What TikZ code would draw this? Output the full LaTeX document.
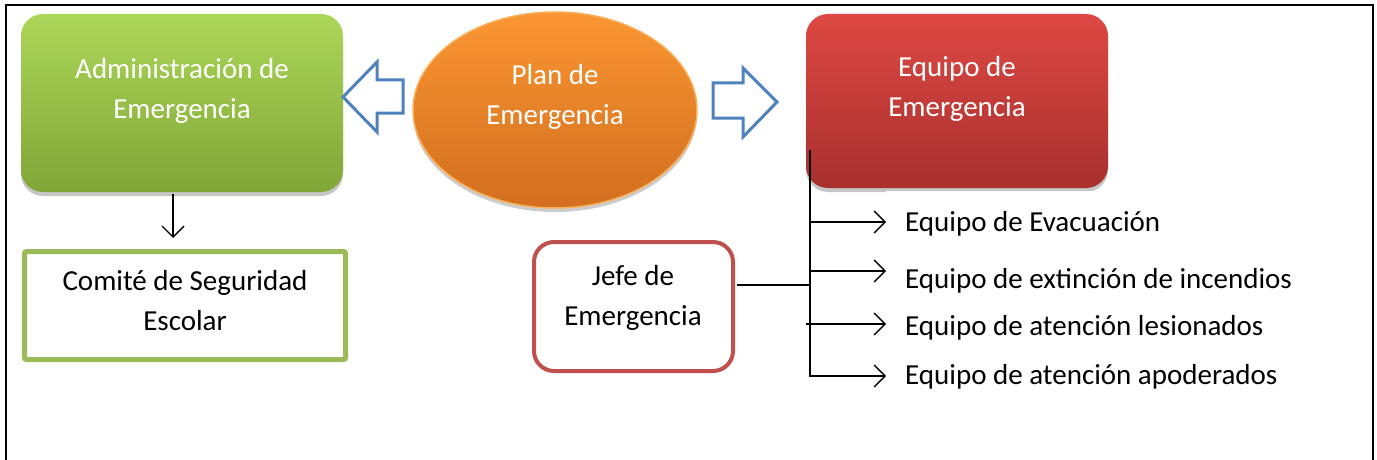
\documentclass[tikz,border=0pt]{standalone}
\usepackage{fontspec}
\setmainfont{Carlito}
\usetikzlibrary{shadows,arrows.meta,shapes.geometric}
\definecolor{admtop}{RGB}{172,214,88}
\definecolor{admbot}{RGB}{128,166,56}
\definecolor{plantop}{RGB}{250,150,50}
\definecolor{planbot}{RGB}{210,110,30}
\definecolor{planedge}{RGB}{250,175,90}
\definecolor{eqtop}{RGB}{222,72,68}
\definecolor{eqbot}{RGB}{168,48,45}
\definecolor{arrblue}{RGB}{79,129,189}
\definecolor{jefered}{RGB}{192,80,77}
\definecolor{comgreen}{RGB}{155,187,89}
\begin{document}
\begin{tikzpicture}[x=1pt,y=-1pt,
  txt/.style={font=\fontsize{29}{40}\selectfont, align=center, inner sep=0pt},
  wtxt/.style={txt, text=white},
  bigbox/.style={rectangle, rounded corners=22pt, draw=none, inner sep=0pt,
    drop shadow={shadow xshift=0pt, shadow yshift=-4pt, opacity=0.45}},
  blockarrow/.style={draw=arrblue, line width=3pt, fill=white, line join=miter},
  conn/.style={line width=1.4pt, black},
  arr/.style={conn, -{Straight Barb[length=11pt,width=22pt,line width=1.4pt]}},
  outline/.style={rectangle, fill=white, inner sep=0pt},
]
\useasboundingbox (0,0) rectangle (1377,460);
% frame
\draw[line width=2.8pt] (6,460) -- (6,5) -- (1373,5) -- (1373,460);

% main shapes
\node[bigbox, top color=admtop, bottom color=admbot, minimum width=322pt, minimum height=178pt] (adm) at (182,103) {};
\node[wtxt] (admt) at (182,91) {Administración de\\Emergencia};

\node[ellipse, draw=planedge, line width=1.5pt, top color=plantop, bottom color=planbot,
  minimum width=284pt, minimum height=196pt, inner sep=0pt,
  drop shadow={shadow xshift=0pt, shadow yshift=-4pt, opacity=0.4}] (plan) at (555,110) {};
\node[wtxt] (plant) at (555,97) {Plan de\\Emergencia};

\node[bigbox, top color=eqtop, bottom color=eqbot, minimum width=302pt, minimum height=174pt] (equipo) at (957,101) {};
\node[wtxt] (equipot) at (957,89) {Equipo de\\Emergencia};
\fill[white] (886,191) rectangle (1125,202);

% block arrows
\draw[blockarrow] (343,97) -- (377,62) -- (377,80) -- (403,80) -- (403,113) -- (377,113) -- (377,132) -- cycle;
\draw[blockarrow] (713,83) -- (743,83) -- (743,68) -- (777,102) -- (743,137) -- (743,118) -- (713,118) -- cycle;

% lower boxes
\node[outline, draw=comgreen, line width=5pt, rounded corners=2pt, minimum width=321pt, minimum height=108pt] (com) at (185,305.5) {};
\node[txt] (comt) at (185,301) {Comité de Seguridad\\Escolar};

\node[outline, draw=jefered, line width=4pt, rounded corners=20pt, minimum width=199pt, minimum height=129pt] (jefe) at (633.5,306.5) {};
\node[txt] (jefet) at (633,298) {Jefe de\\Emergencia};

% team labels
\node[txt, anchor=west] (e1) at (905,224) {Equipo de Evacuación};
\node[txt, anchor=west] (e2) at (905,281) {Equipo de extinción de incendios};
\node[txt, anchor=west] (e3) at (905,328) {Equipo de atención lesionados};
\node[txt, anchor=west] (e4) at (905,377) {Equipo de atención apoderados};

% connectors
\coordinate (dtop) at (173,194);
\coordinate (dbot) at (173,238);
\draw[arr] (dtop) -- (dbot);

\coordinate (ttop) at (810,150);
\coordinate (tbot) at (810,377);
\coordinate (jl) at (737,285);
\coordinate (jt) at (810,285);
\draw[conn] (ttop) -- (tbot);
\draw[conn] (jl) -- (jt);
\coordinate (b1) at (810,222);
\coordinate (b2) at (810,271);
\coordinate (b3) at (806,324);
\coordinate (b4) at (809.3,376);
\coordinate (a1) at (886,222);
\coordinate (a2) at (886,271);
\coordinate (a3) at (886,324);
\coordinate (a4) at (886,376);
\draw[arr] (b1) -- (a1);
\draw[arr] (b2) -- (a2);
\draw[arr] (b3) -- (a3);
\draw[arr] (b4) -- (a4);
\end{tikzpicture}
\end{document}
